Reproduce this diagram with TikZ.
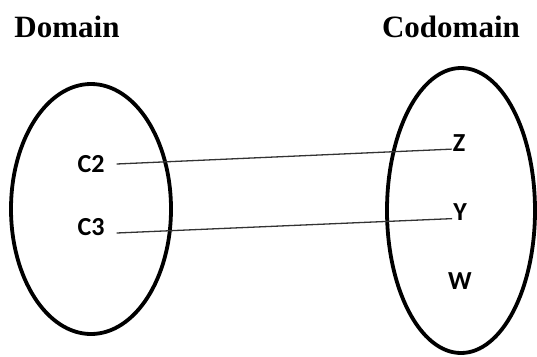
\documentclass[tikz,border=0pt]{standalone}
\usepackage{fontspec}
\setmainfont{Liberation Serif}
\newfontfamily\labelfont{Carlito}
\begin{document}
\begin{tikzpicture}[x=1pt,y=-1pt,
  setring/.style={draw=black,line width=3.8pt},
  heading/.style={font=\fontsize{31}{34}\selectfont\bfseries,inner sep=0pt},
  elem/.style={font=\labelfont\fontsize{26}{28}\selectfont\bfseries,inner sep=0pt},
  mapline/.style={draw=black!80,line width=1.3pt}]
  \useasboundingbox (0,0) rectangle (537,356);
  % titles
  \node[heading] (domtitle) at (67,27) {Domain};
  \node[heading] (codtitle) at (451,27) {Codomain};
  % the two sets
  \draw[setring] (91,209) ellipse [x radius=80, y radius=125];
  \draw[setring] (461,210.5) ellipse [x radius=74, y radius=142.5];
  % domain elements
  \node[elem] (c2) at (91,164) {C2};
  \node[elem] (c3) at (91,227) {C3};
  % codomain elements
  \node[elem] (z) at (459,143) {Z};
  \node[elem] (y) at (460,212) {Y};
  \node[elem] (w) at (460,281) {W};
  % mappings
  \draw[mapline] ([xshift=12pt]c2.east) -- ([xshift=-1pt,yshift=2.5pt]z.south west);
  \draw[mapline] ([xshift=12pt,yshift=-6pt]c3.east) -- ([xshift=-1pt,yshift=2pt]y.south west);
\end{tikzpicture}
\end{document}
